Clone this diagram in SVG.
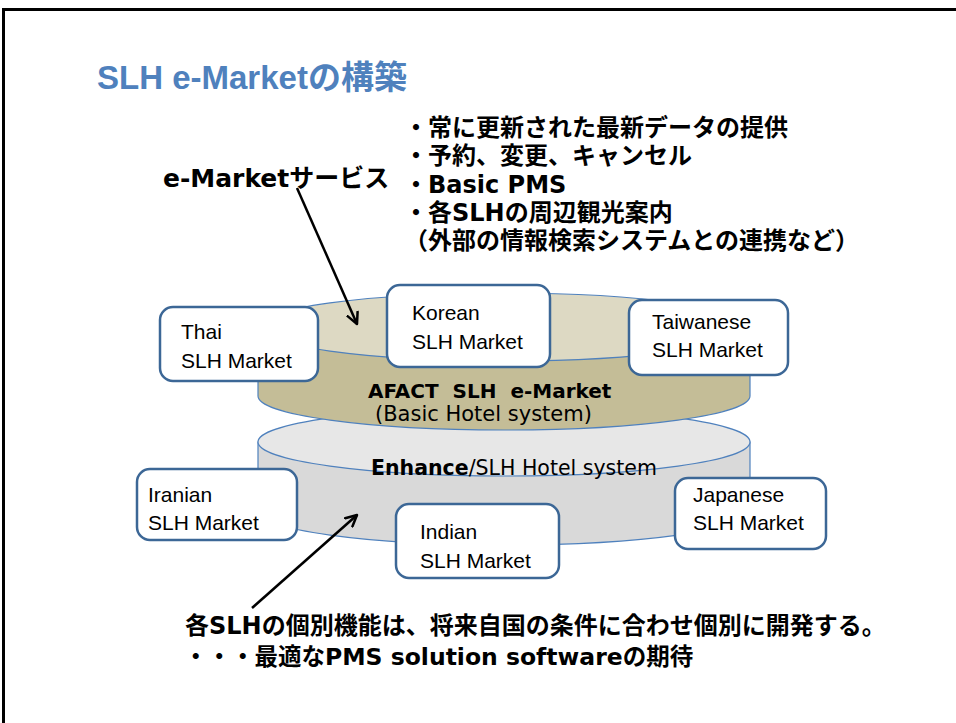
<svg xmlns="http://www.w3.org/2000/svg" width="956" height="723" viewBox="0 0 956 723">
<defs>
<style>
.frame{fill:none;stroke:#000;stroke-width:3}
.cyl{stroke:#4F81BD;stroke-width:1.2}
.tanTop{fill:#DDD9C3}
.tanBody{fill:#C4BD97}
.grayTop{fill:#E7E7E7}
.grayBody{fill:#D9D9D9}
.box{fill:#fff;stroke:#3C6796;stroke-width:2.5}
.bt{font-family:"Liberation Sans","Noto Sans CJK JP",sans-serif;font-size:21px;fill:#000}
.jp{font-family:"DejaVu Sans","Noto Sans CJK JP",sans-serif;font-weight:bold;fill:#000}
.title{font-family:"Liberation Sans","Noto Sans CJK JP",sans-serif;font-weight:bold;font-size:33px;fill:#4F81BD}
.lbl{font-family:"DejaVu Sans","Noto Sans CJK JP",sans-serif;fill:#000}
.arrow{stroke:#000;stroke-width:2.5;fill:none}
</style>
<marker id="ah" markerUnits="userSpaceOnUse" viewBox="0 0 14 14" refX="12" refY="7" markerWidth="14" markerHeight="14" orient="auto">
<path d="M1,1.5 L12,7 L1,12.5" fill="none" stroke="#000" stroke-width="2.5" stroke-linecap="round" stroke-linejoin="round"/>
</marker>
</defs>
<rect width="956" height="723" fill="#fff"/>
<path class="frame" d="M3.5,723 V9.5 H956"/>

<g id="title"><text class="title" x="97" y="89">SLH e-Marketの構築</text></g>

<g id="cylinder-enhance">
<path class="cyl grayBody" d="M258,442 L258,511 A246,34 0 0 0 750,511 L750,442 Z"/>
<ellipse class="cyl grayTop" cx="504" cy="442" rx="246" ry="34"/>
</g>
<g id="cylinder-afact">
<path class="cyl tanBody" d="M258,327 L258,396 A246,34 0 0 0 750,396 L750,327 Z"/>
<ellipse class="cyl tanTop" cx="504" cy="327" rx="246" ry="34"/>
</g>
<g id="label-afact">
<text class="lbl" x="368" y="398" font-size="20" font-weight="bold" xml:space="preserve">AFACT  SLH  e-Market</text>
<text class="lbl" x="375" y="421" font-size="21">(Basic Hotel system)</text>
</g>
<g id="label-enhance">
<text class="lbl" x="371" y="475" font-size="20.5"><tspan font-weight="bold">Enhance</tspan>/SLH Hotel system</text>
</g>

<g id="box-thai"><rect class="box" x="160" y="307" width="158" height="74" rx="13"/>
<text class="bt" x="181" y="339">Thai</text><text class="bt" x="181" y="368">SLH Market</text></g>
<g id="box-korean"><rect class="box" x="387" y="285" width="163" height="82" rx="13"/>
<text class="bt" x="412" y="320">Korean</text><text class="bt" x="412" y="349">SLH Market</text></g>
<g id="box-taiwanese"><rect class="box" x="629" y="300" width="159" height="75" rx="13"/>
<text class="bt" x="652" y="329">Taiwanese</text><text class="bt" x="652" y="357">SLH Market</text></g>
<g id="box-iranian"><rect class="box" x="137" y="469" width="160" height="71" rx="13"/>
<text class="bt" x="148" y="502">Iranian</text><text class="bt" x="148" y="530">SLH Market</text></g>
<g id="box-indian"><rect class="box" x="396" y="504" width="163" height="74" rx="13"/>
<text class="bt" x="420" y="539">Indian</text><text class="bt" x="420" y="568">SLH Market</text></g>
<g id="box-japanese"><rect class="box" x="675" y="478" width="151" height="71" rx="13"/>
<text class="bt" x="693" y="502">Japanese</text><text class="bt" x="693" y="530">SLH Market</text></g>

<g id="services">
<text class="jp" x="163" y="187" font-size="25">e-Marketサービス</text>
<text class="jp" x="404" y="136" font-size="24">・常に更新された最新データの提供</text>
<text class="jp" x="404" y="164" font-size="24">・予約、変更、キャンセル</text>
<text class="jp" x="404" y="193" font-size="24">・Basic PMS</text>
<text class="jp" x="404" y="221" font-size="24">・各SLHの周辺観光案内</text>
<text class="jp" x="404" y="249" font-size="24">（外部の情報検索システムとの連携など）</text>
</g>

<g id="note">
<text class="jp" x="185" y="634" font-size="24">各SLHの個別機能は、将来自国の条件に合わせ個別に開発する。</text>
<text class="jp" x="184" y="665" font-size="23.5">・・・最適なPMS solution softwareの期待</text>
</g>

<g id="connectors">
<line class="arrow" x1="297" y1="188" x2="357" y2="324" marker-end="url(#ah)"/>
<line class="arrow" x1="252" y1="608" x2="357" y2="515" marker-end="url(#ah)"/>
</g>
</svg>
